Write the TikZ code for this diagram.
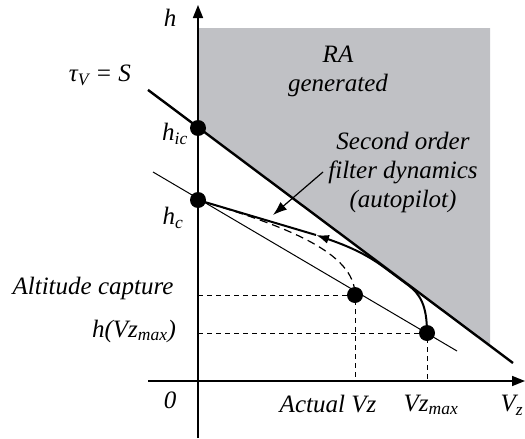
\documentclass[tikz,border=0pt]{standalone}
\usepackage{fontspec}
\setmainfont{Liberation Serif}
\usetikzlibrary{arrows.meta}
\definecolor{raGray}{RGB}{192,193,197}
\begin{document}
\begin{tikzpicture}[x=1pt,y=-1pt,
 lbl/.style={font=\fontsize{25}{29}\selectfont\itshape, inner sep=0pt, align=center},
 axis/.style={line width=1.6pt},
 bound/.style={line width=2.4pt},
 thinline/.style={line width=1pt},
 traj/.style={line width=2pt},
 guide/.style={line width=1pt, dash pattern=on 5pt off 4pt},
 dashtraj/.style={line width=1.2pt, dash pattern=on 8pt off 5pt},
 dot/.style={circle, fill=black, minimum size=16pt, inner sep=0pt}]
\useasboundingbox (0,0) rectangle (525,439);
% RA region
\fill[raGray] (198,28) -- (490,28) -- (490,345.7) -- (198,127.3) -- cycle;
% axes
\coordinate (ybot) at (198,438);
\coordinate (ytop) at (198,5);
\coordinate (xleft) at (148,381);
\coordinate (xright) at (525,381);
\draw[axis,-{Triangle[length=13pt,width=10pt]}] (ybot) -- (ytop);
\draw[axis,-{Triangle[length=13pt,width=10pt]}] (xleft) -- (xright);
% boundary tau_V = S
\coordinate (bstart) at (148,89.9);
\coordinate (bend) at (513,363);
\draw[bound] (bstart) -- (bend);
% thin capture line
\coordinate (tstart) at (153,172);
\coordinate (tend) at (457,351);
\draw[thinline] (tstart) -- (tend);
% dots
\node[dot] (hic) at (198,128) {};
\node[dot] (hc) at (198,200) {};
\node[dot] (act) at (355,295) {};
\node[dot] (vzm) at (427,333) {};
% guides
\coordinate (yact) at (198,295);
\coordinate (yvzm) at (198,333);
\coordinate (xact) at (355,381);
\coordinate (xvzm) at (427,381);
\draw[guide] (yact) -- (act.center) -- (xact);
\draw[guide] (yvzm) -- (vzm.center) -- (xvzm);
% dashed trajectory
\draw[dashtraj] (hc.center) .. controls (285,226) and (355,252) .. (act.center);
% solid trajectory
\coordinate (arr) at (316,235);
\draw[traj,-{Latex[length=13pt,width=9pt]}] (vzm.center) .. controls (427,305) and (420,294) .. (408,285) -- (385,268) .. controls (365,253) and (345,245) .. (arr);
\draw[traj] (arr) -- (hc.center);
% labels
\node[lbl] (lh) at (170,18) {h};
\node[lbl] (ltau) at (100,75) {τ\textsubscript{V} = S};
\node[lbl] (lhic) at (175,134) {h\textsubscript{ic}};
\node[lbl] (lhc) at (173,218) {h\textsubscript{c}};
\node[lbl] (lalt) at (93,288) {Altitude capture};
\node[lbl] (lhv) at (134,331) {h(Vz\textsubscript{max})};
\node[lbl] (lzero) at (170,400) {0};
\node[lbl] (lact) at (328,404) {Actual Vz};
\node[lbl] (lvzm) at (431,405) {Vz\textsubscript{max}};
\node[lbl] (lvz) at (512,405) {V\textsubscript{z}};
\node[lbl] (lra) at (338,71) {RA\\generated};
\node[lbl] (lfilt) at (403,172) {Second order\\filter dynamics\\(autopilot)};
% pointer
\coordinate (pstart) at (323,172);
\coordinate (pend) at (273,215);
\draw[line width=1.2pt,-{Latex[length=14pt,width=10pt]}] (pstart) -- (pend);
\end{tikzpicture}
\end{document}
